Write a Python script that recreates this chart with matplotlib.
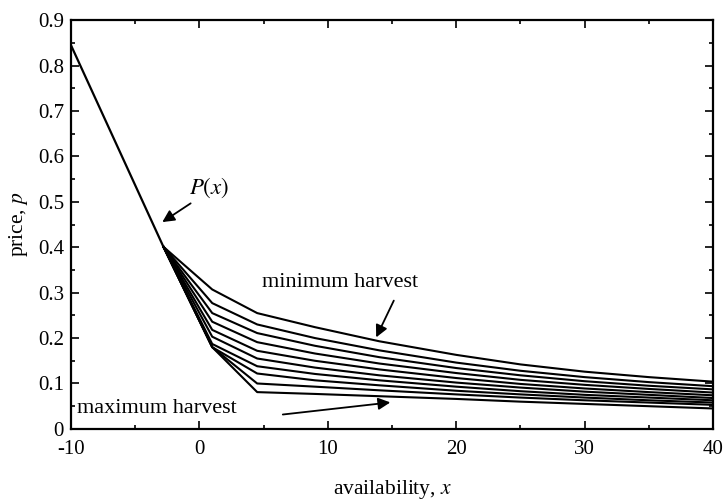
import matplotlib
matplotlib.use("Agg")
from matplotlib import pyplot as plt
from matplotlib.ticker import MultipleLocator

plt.rcParams["font.family"] = ["Liberation Serif", "DejaVu Serif"]
plt.rcParams["mathtext.fontset"] = "stix"

# demand curve P(x)
P_X = [-10, -2.8]
P_Y = [0.845, 0.401]

# harvest curves, from minimum harvest (top) to maximum harvest (bottom)
CURVE_X = [-2.8, 1, 4.5, 9, 14, 20, 25, 30, 35, 40]
CURVES = [
    [0.401, 0.307, 0.255, 0.224, 0.193, 0.163, 0.142, 0.126, 0.114, 0.104],
    [0.401, 0.277, 0.230, 0.200, 0.173, 0.146, 0.128, 0.114, 0.103, 0.094],
    [0.401, 0.255, 0.211, 0.183, 0.158, 0.134, 0.118, 0.105, 0.095, 0.087],
    [0.401, 0.236, 0.191, 0.166, 0.144, 0.123, 0.108, 0.097, 0.088, 0.080],
    [0.401, 0.218, 0.172, 0.150, 0.131, 0.112, 0.099, 0.089, 0.081, 0.074],
    [0.401, 0.203, 0.155, 0.135, 0.118, 0.102, 0.091, 0.082, 0.075, 0.068],
    [0.401, 0.187, 0.138, 0.121, 0.107, 0.093, 0.083, 0.075, 0.069, 0.063],
    [0.401, 0.180, 0.122, 0.107, 0.096, 0.084, 0.076, 0.069, 0.063, 0.058],
    [0.401, 0.180, 0.100, 0.093, 0.085, 0.076, 0.069, 0.063, 0.058, 0.053],
    [0.401, 0.180, 0.081, 0.077, 0.072, 0.066, 0.060, 0.055, 0.050, 0.045],
]

X_TICKS = [-10, 0, 10, 20, 30, 40]
X_LABELS = ["-10", "0", "10", "20", "30", "40"]
Y_TICKS = [0, 0.1, 0.2, 0.3, 0.4, 0.5, 0.6, 0.7, 0.8, 0.9]
Y_LABELS = ["0", "0.1", "0.2", "0.3", "0.4", "0.5", "0.6", "0.7", "0.8", "0.9"]

fig = plt.figure(figsize=(7.24, 5.04), dpi=100)
ax = fig.add_axes([0.098, 0.149, 0.887, 0.811])

ax.plot(P_X, P_Y, color="black", lw=1.6)
for ys in CURVES:
    ax.plot(CURVE_X, ys, color="black", lw=1.5)

ax.set_xlim(-10, 40)
ax.set_ylim(0, 0.9)
ax.set_xticks(X_TICKS)
ax.set_xticklabels(X_LABELS)
ax.set_yticks(Y_TICKS)
ax.set_yticklabels(Y_LABELS)
ax.xaxis.set_minor_locator(MultipleLocator(5))
ax.yaxis.set_minor_locator(MultipleLocator(0.05))
ax.tick_params(which="both", direction="in", top=True, right=True,
               labelsize=15, width=1.2)
ax.tick_params(which="major", length=6)
ax.tick_params(axis="x", which="major", pad=8)
ax.tick_params(axis="y", which="major", pad=5)
ax.tick_params(which="minor", length=3)
for s in ax.spines.values():
    s.set_linewidth(1.6)

ax.set_xlabel("availability, $x$", fontsize=15.5, labelpad=14)
ax.set_ylabel("price, $p$", fontsize=15.5, labelpad=6)

arrow = dict(arrowstyle="-|>", color="black", lw=1.3, mutation_scale=18)
ax.annotate("", xy=(-3.07, 0.452), xytext=(-0.5, 0.50), arrowprops=arrow)
ax.text(0.75, 0.53, "$P(x)$", fontsize=16.5, ha="center", va="center")

ax.annotate("", xy=(13.67, 0.196), xytext=(15.23, 0.288), arrowprops=arrow)
ax.text(4.9, 0.323, "minimum harvest", fontsize=16, ha="left", va="center")

ax.annotate("", xy=(15.08, 0.059), xytext=(6.28, 0.031), arrowprops=arrow)
ax.text(-9.55, 0.046, "maximum harvest", fontsize=16, ha="left", va="center")

plt.savefig("out.png", dpi=100)
